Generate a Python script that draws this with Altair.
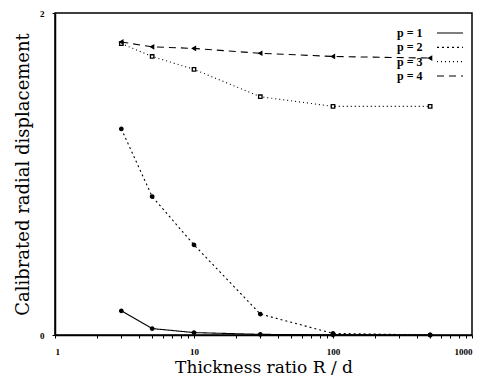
import altair as alt
import pandas as pd

ratios = [3, 5, 10, 30, 100, 500]
p1 = [0.15, 0.04, 0.015, 0.004, 0.001, 0.0]
p2 = [1.28, 0.86, 0.56, 0.13, 0.01, 0.0]
p3 = [1.81, 1.73, 1.65, 1.48, 1.42, 1.42]
p4 = [1.82, 1.79, 1.78, 1.75, 1.73, 1.72]
series_names = ["p = 1", "p = 2", "p = 3", "p = 4"]
x_ticks = [1, 2, 3, 4, 5, 6, 7, 8, 9, 10, 20, 30, 40, 50, 60, 70, 80, 90,
           100, 200, 300, 400, 500, 600, 700, 800, 900, 1000]
y_ticks = [0, 1, 2]

rows = []
for name, vals in zip(series_names, [p1, p2, p3, p4]):
    for r, v in zip(ratios, vals):
        rows.append({"ratio": r, "disp": v, "series": name})
df = pd.DataFrame(rows)
leg = pd.DataFrame({"series": series_names, "row": list(range(4))})

FONT = "Liberation Serif"
TFONT = "DejaVu Serif"
dash_scale = alt.Scale(domain=series_names, range=[[1, 0], [2, 3], [1, 3], [7, 5]])
shape_scale = alt.Scale(domain=series_names,
                        range=["circle", "circle", "square", "triangle-left"])
fill_scale = alt.Scale(domain=series_names, range=["black", "black", "white", "black"])
size_scale = alt.Scale(domain=series_names, range=[12, 12, 22, 18])

xenc = alt.X("ratio:Q", scale=alt.Scale(type="log", domain=[1, 1000]),
             axis=alt.Axis(values=x_ticks, title="Thickness ratio R / d",
                           labelExpr="(log(datum.value)/LN10) % 1 < 0.001 || (log(datum.value)/LN10) % 1 > 0.999 ? datum.label : ''",
                           format="d", grid=False, tickSize=3, labelPadding=9,
                           titlePadding=3, titleFontSize=17))
yenc = alt.Y("disp:Q", scale=alt.Scale(domain=[0, 2]),
             axis=alt.Axis(values=y_ticks, title="Calibrated radial displacement",
                           format="d", grid=False, tickSize=3, labelPadding=8,
                           titlePadding=7, titleFontSize=18))

lines = alt.Chart(df).mark_line(color="black", strokeWidth=1.1).encode(
    x=xenc, y=yenc,
    strokeDash=alt.StrokeDash("series:N", scale=dash_scale, legend=None),
    detail="series:N",
)
points = alt.Chart(df).mark_point(color="black", strokeWidth=1.3, opacity=1).encode(
    x="ratio:Q", y="disp:Q",
    shape=alt.Shape("series:N", scale=shape_scale, legend=None),
    fill=alt.Fill("series:N", scale=fill_scale, legend=None),
    size=alt.Size("series:N", scale=size_scale, legend=None),
)

ly = alt.Y("row:Q", scale=alt.Scale(domain=[0, 3], range=[20, 63]), axis=None)
leg_text = alt.Chart(leg).mark_text(font=FONT, fontSize=12, fontWeight="bold",
                                    align="left", baseline="middle", color="black").encode(
    x=alt.value(342), y=ly, text="series:N")
leg_line = alt.Chart(leg).mark_rule(color="black", strokeWidth=1.1).encode(
    x=alt.value(382), x2=alt.value(408), y=ly,
    strokeDash=alt.StrokeDash("series:N", scale=dash_scale, legend=None))

data_layer = alt.layer(lines, points)
legend_layer = alt.layer(leg_text, leg_line)

chart = alt.layer(data_layer, legend_layer).resolve_scale(
    y="independent", strokeDash="shared"
).properties(
    width=417, height=322,
    autosize=alt.AutoSizeParams(type="none"),
    padding={"left": 47, "top": 5, "right": 8, "bottom": 47},
    background="white",
).configure_view(stroke="black", strokeWidth=1.5).configure_axis(
    domainColor="black", tickColor="black", labelColor="black", titleColor="black",
    labelFont=FONT, labelFontSize=9, labelFontWeight="bold",
    titleFont=TFONT, titleFontWeight="normal",
    domainWidth=1.5,
)

chart.save("out.html", embed_options={"renderer": "svg", "actions": False})
